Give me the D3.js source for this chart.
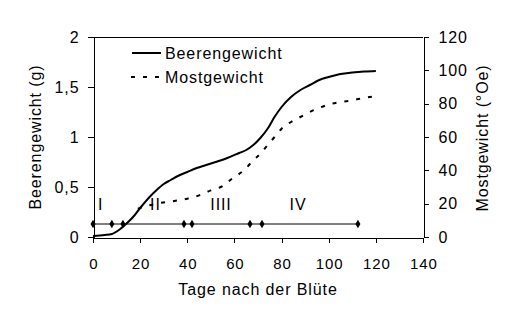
<!doctype html>
<html lang="de">
<head>
<meta charset="utf-8">
<title>Beerengewicht und Mostgewicht</title>
<style>
  body { margin: 0; background: #fff; }
  svg text { font-family: Arial, "Liberation Sans", sans-serif; fill: #000; letter-spacing: 0.9px; }
  .axis path, .axis line { stroke: #000; stroke-width: 1; shape-rendering: crispEdges; }
</style>
</head>
<body>
<svg id="chart" width="515" height="314"></svg>
<script src="https://d3js.org/d3.v7.min.js"></script>
<script>
// days after bloom, berry weight (g), left axis
var beereTage = [0, 5, 8, 11, 14, 17, 20, 24, 27, 30, 33, 36, 40, 44, 48, 52, 57, 62, 65, 68, 71, 74, 77, 80, 84, 88, 92, 96, 100, 105, 110, 115, 120];
var beereGewicht = [0.01, 0.02, 0.03, 0.07, 0.13, 0.2, 0.29, 0.4, 0.47, 0.53, 0.57, 0.61, 0.65, 0.69, 0.72, 0.75, 0.79, 0.84, 0.87, 0.92, 0.99, 1.08, 1.2, 1.3, 1.4, 1.47, 1.52, 1.57, 1.6, 1.63, 1.645, 1.655, 1.66];

// must weight (°Oe), right axis
var mostTage = [19, 24, 29, 34, 40, 45, 50, 55, 59, 64, 68, 71, 74, 77, 80, 84, 88, 92, 96, 100, 105, 110, 115, 120];
var mostGewicht = [17, 19, 20.5, 21.5, 23, 25, 28, 30.5, 35, 40, 46, 50, 55, 60, 65, 69, 72, 75, 77.5, 79.5, 81, 82, 83.5, 84.5];

// phase boundaries (days) on the marker line
var phaseTage = [0, 8, 12.7, 38.6, 42, 66.6, 71.7, 112.4];
var phaseHoehe = 0.13;
var phaseNamen = ["I", "II", "IIII", "IV"];
var phaseLabelTage = [3.3, 26.5, 54.3, 87];

var xTicks = [0, 20, 40, 60, 80, 100, 120, 140];
var yLinksTicks = [0, 0.5, 1, 1.5, 2];
var yRechtsTicks = [0, 20, 40, 60, 80, 100, 120];

var svg = d3.select("#chart");

var x = d3.scaleLinear().domain([0, 140]).range([93, 423]);
var yL = d3.scaleLinear().domain([0, 2]).range([237, 37]);
var yR = d3.scaleLinear().domain([0, 120]).range([237, 37]);

var fmt = function(d) { return String(d).replace(".", ","); };

// frame top line
svg.append("line")
   .attr("x1", x(0)).attr("x2", x(140))
   .attr("y1", yL(2) + 0.5).attr("y2", yL(2) + 0.5)
   .attr("stroke", "#000").attr("shape-rendering", "crispEdges");

svg.append("g")
   .attr("class", "axis")
   .attr("transform", "translate(0," + 237.5 + ")")
   .call(d3.axisBottom(x).tickValues(xTicks).tickSize(5).tickSizeOuter(0).tickPadding(16))
   .call(function(g) { g.selectAll("text").attr("font-size", 15).attr("dx", "0.45px"); });

svg.append("g")
   .attr("class", "axis")
   .attr("transform", "translate(" + 93.5 + ",0)")
   .call(d3.axisLeft(yL).tickValues(yLinksTicks).tickFormat(fmt).tickSize(6).tickSizeOuter(0).tickPadding(8))
   .call(function(g) { g.selectAll("text").attr("font-size", 16); });

svg.append("g")
   .attr("class", "axis")
   .attr("transform", "translate(" + 423.5 + ",0)")
   .call(d3.axisRight(yR).tickValues(yRechtsTicks).tickSize(5).tickSizeOuter(0).tickPadding(10))
   .call(function(g) { g.selectAll("text").attr("font-size", 16); });

svg.selectAll(".axis .domain").attr("fill", "none");

// axis titles
svg.append("text")
   .attr("x", x(70)).attr("y", 295)
   .attr("text-anchor", "middle")
   .attr("font-size", 16)
   .text("Tage nach der Blüte");

svg.append("text")
   .attr("transform", "translate(41,137) rotate(-90)")
   .attr("text-anchor", "middle")
   .attr("font-size", 16)
   .text("Beerengewicht (g)");

svg.append("text")
   .attr("transform", "translate(488,138) rotate(-90)")
   .attr("text-anchor", "middle")
   .attr("font-size", 16)
   .text("Mostgewicht (°Oe)");

// phase marker line
svg.append("line")
   .attr("x1", x(phaseTage[0])).attr("x2", x(phaseTage[phaseTage.length - 1]))
   .attr("y1", yL(phaseHoehe)).attr("y2", yL(phaseHoehe))
   .attr("stroke", "#000").attr("stroke-width", 1);

svg.selectAll(".marker")
   .data(phaseTage).enter()
   .append("path")
   .attr("class", "marker")
   .attr("transform", function(d) { return "translate(" + x(d) + "," + yL(phaseHoehe) + ")"; })
   .attr("d", d3.symbol(d3.symbolDiamond).size(22))
   .attr("fill", "#000");

svg.selectAll(".phase")
   .data(phaseNamen).enter()
   .append("text")
   .attr("class", "phase")
   .attr("x", function(d, i) { return x(phaseLabelTage[i]); })
   .attr("y", 210)
   .attr("text-anchor", "middle")
   .attr("font-size", 16)
   .text(function(d) { return d; });

// curves
var beereLine = d3.line()
   .x(function(d, i) { return x(beereTage[i]); })
   .y(function(d) { return yL(d); })
   .curve(d3.curveMonotoneX);

var mostLine = d3.line()
   .x(function(d, i) { return x(mostTage[i]); })
   .y(function(d) { return yR(d); })
   .curve(d3.curveMonotoneX);

svg.append("path")
   .attr("d", beereLine(beereGewicht))
   .attr("fill", "none").attr("stroke", "#000").attr("stroke-width", 2);

svg.append("path")
   .attr("d", mostLine(mostGewicht))
   .attr("fill", "none").attr("stroke", "#000").attr("stroke-width", 2)
   .attr("stroke-dasharray", "4,8");

// legend
var legend = svg.append("g");
legend.append("line")
   .attr("x1", 132).attr("x2", 161).attr("y1", 53).attr("y2", 53)
   .attr("stroke", "#000").attr("stroke-width", 2);
legend.append("text")
   .attr("x", 165).attr("y", 59).attr("font-size", 16)
   .text("Beerengewicht");
legend.append("line")
   .attr("x1", 131).attr("x2", 161).attr("y1", 77).attr("y2", 77)
   .attr("stroke", "#000").attr("stroke-width", 2)
   .attr("stroke-dasharray", "4,8");
legend.append("text")
   .attr("x", 165).attr("y", 83).attr("font-size", 16)
   .text("Mostgewicht");
</script>
</body>
</html>
